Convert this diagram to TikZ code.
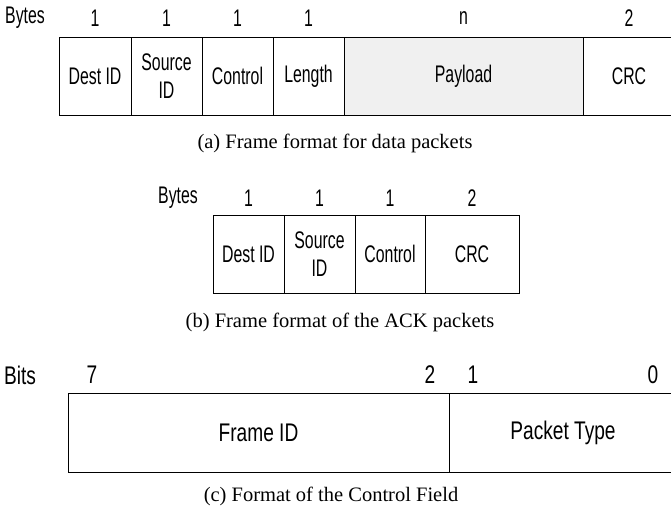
\documentclass[tikz,border=0pt]{standalone}
\usepackage{fontspec}
\setmainfont{Liberation Serif}
\newfontfamily\narrowfont[FakeStretch=0.66]{Liberation Sans}
\newfontfamily\bitfont[FakeStretch=0.75]{Liberation Sans}
\newcommand{\lblsize}{\narrowfont\fontsize{24}{28}\selectfont}
\newcommand{\bitsize}{\bitfont\fontsize{25.5}{28}\selectfont}
\begin{document}
\begin{tikzpicture}[x=1pt,y=-1pt,
  field/.style={draw,line width=.8pt,inner sep=0pt,outer sep=0pt,align=center,font=\lblsize},
  lbl/.style={inner sep=0pt,font=\lblsize},
  bitlbl/.style={inner sep=0pt,font=\bitsize},
  subcap/.style={inner sep=0pt,font=\fontsize{20.5}{24}\selectfont}]
\useasboundingbox (0,0) rectangle (671,517);
% (a) data packets
\node[field,minimum width=72,minimum height=78] (dest) at (95,76) {Dest ID};
\node[field,minimum width=71,minimum height=78] (src) at (166.5,76) {Source\\ID};
\node[field,minimum width=71,minimum height=78] (ctrl) at (237.5,76) {Control};
\node[field,minimum width=71,minimum height=78] (len) at (308.5,76) {Length};
\node[field,fill=gray!12,minimum width=239,minimum height=78] (pay) at (463.5,76) {Payload};
\node[field,minimum width=92,minimum height=78] (crc) at (629,76) {CRC};
\node[lbl] (bytesa) at (25,18) {Bytes};
\node[lbl] (na1) at (dest.north |- bytesa) {1};
\node[lbl] (na2) at (src.north |- bytesa) {1};
\node[lbl] (na3) at (ctrl.north |- bytesa) {1};
\node[lbl] (na4) at (len.north |- bytesa) {1};
\node[lbl] (nan) at (pay.north |- bytesa) {n};
\node[lbl] (na5) at (crc.north |- bytesa) {2};
\node[subcap] (capa) at (335,143) {(a) Frame format for data packets};
% (b) ACK packets
\node[field,minimum width=71,minimum height=78] (adest) at (248.5,254) {Dest ID};
\node[field,minimum width=71,minimum height=78] (asrc) at (319.5,254) {Source\\ID};
\node[field,minimum width=70,minimum height=78] (actrl) at (390,254) {Control};
\node[field,minimum width=94,minimum height=78] (acrc) at (472,254) {CRC};
\node[lbl] (bytesb) at (178,198) {Bytes};
\node[lbl] (nb1) at (adest.north |- bytesb) {1};
\node[lbl] (nb2) at (asrc.north |- bytesb) {1};
\node[lbl] (nb3) at (actrl.north |- bytesb) {1};
\node[lbl] (nb4) at (acrc.north |- bytesb) {2};
\node[subcap] (capb) at (340,322) {(b) Frame format of the ACK packets};
% (c) control field
\node[field,font=\bitsize,minimum width=381,minimum height=79] (fid) at (258.5,432.5) {Frame ID};
\node[field,font=\bitsize,minimum width=228,minimum height=79] (ptype) at (563,432.5) {Packet Type};
\node[bitlbl] (bits) at (20,375) {Bits};
\node[bitlbl] (b7) at ([xshift=24]fid.north west |- bits) {7};
\node[bitlbl] (b2) at ([xshift=-19]fid.north east |- bits) {2};
\node[bitlbl] (b1) at ([xshift=24]ptype.north west |- bits) {1};
\node[bitlbl] (b0) at ([xshift=-24]ptype.north east |- bits) {0};
\node[subcap] (capc) at (331,496) {(c) Format of the Control Field};
\end{tikzpicture}
\end{document}
